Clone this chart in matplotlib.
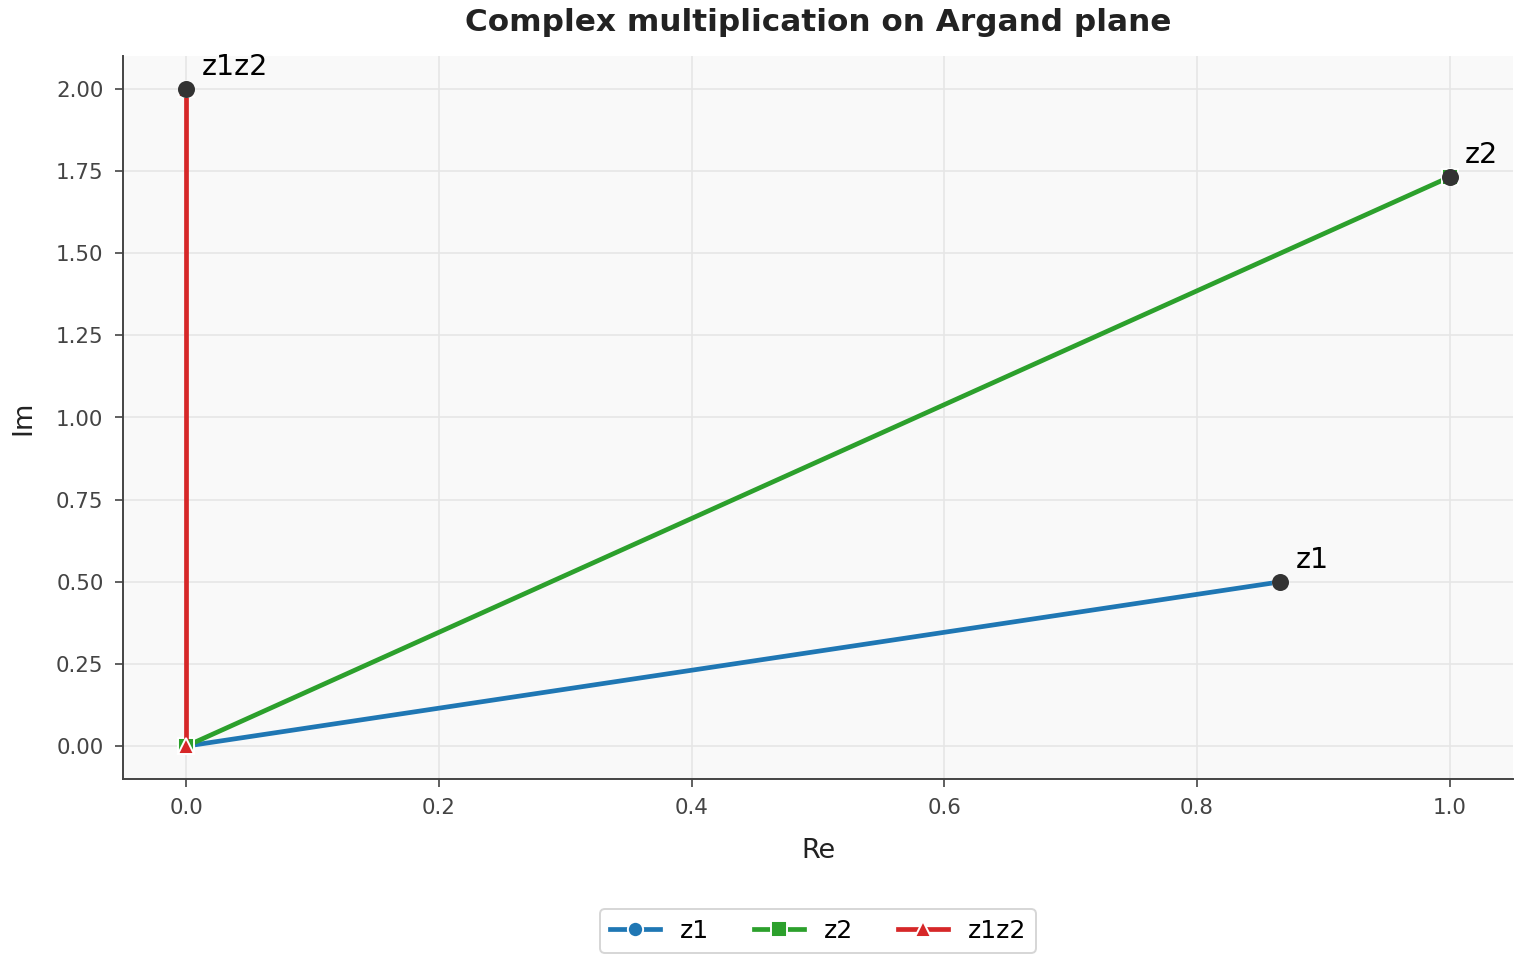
import numpy as np
import matplotlib
matplotlib.use("Agg")
import matplotlib.pyplot as plt

names = ["z1", "z2", "z1z2"]
re_vals = [0.8660, 1.0, 0.0]
im_vals = [0.5, 1.7320, 2.0]
colors = ["#1f77b4", "#2ca02c", "#d62728"]
markers = ["o", "s", "^"]

plt.rcParams['font.family'] = ['DejaVu Sans']
fig = plt.figure(figsize=(15.2, 9.6), dpi=100)
ax = fig.add_axes([123/1520, 1-779/960, (1513-123)/1520, (779-56)/960])
ax.set_facecolor("#f9f9f9")

for n, x, y, c, m in zip(names, re_vals, im_vals, colors, markers):
    ax.plot([0, x], [0, y], color=c, lw=3.4, marker=m, markersize=11,
            markeredgecolor="white", markeredgewidth=1.4, label=n, zorder=3)
for n, x, y in zip(names, re_vals, im_vals):
    ax.scatter([x], [y], s=150, color="#333333", zorder=4, linewidths=0)
    ax.annotate(n, (x, y), xytext=(11, 10), textcoords="offset points",
                fontsize=20.5, color="black")

ax.set_xlim(-0.05, 1.05)
ax.set_ylim(-0.1, 2.1)
ax.set_xticks([0.0, 0.2, 0.4, 0.6, 0.8, 1.0])
ax.set_yticks(np.arange(0, 2.01, 0.25))
ax.yaxis.set_major_formatter(matplotlib.ticker.FormatStrFormatter('%.2f'))
ax.grid(True, color="#e6e6e6", lw=1.2)
ax.set_axisbelow(True)
for s in ["top", "right"]:
    ax.spines[s].set_visible(False)
for s in ["left", "bottom"]:
    ax.spines[s].set_color("#444444")
    ax.spines[s].set_linewidth(1.4)
ax.tick_params(colors="#444444", labelsize=15.4, length=6, width=1.2, pad=8)
ax.set_xlabel("Re", fontsize=19.5, color="#222222", labelpad=14)
ax.set_ylabel("Im", fontsize=19.5, color="#222222", labelpad=14)
ax.set_title("Complex multiplication on Argand plane", fontsize=22.4,
             fontweight="bold", color="#222222", pad=18)
leg = ax.legend(loc="center", bbox_to_anchor=(0.5, 1 - (931-56)/723), ncol=3,
                fontsize=18, frameon=True, columnspacing=1.8)
leg.get_frame().set_edgecolor("#cccccc")
leg.get_frame().set_linewidth(1.4)
fig.savefig("out.png", dpi=100)
